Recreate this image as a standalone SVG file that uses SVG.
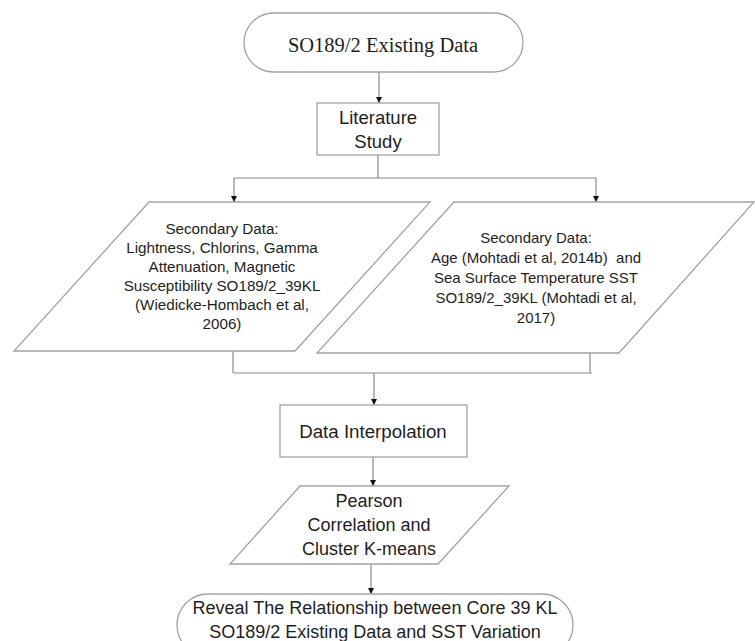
<svg xmlns="http://www.w3.org/2000/svg" width="755" height="641" viewBox="0 0 755 641">
<defs>
<marker id="arr" markerUnits="userSpaceOnUse" markerWidth="6" markerHeight="6" refX="6" refY="3" orient="auto" viewBox="0 0 6 6">
<path d="M0,0 L6,3 L0,6 Z" fill="#111"/>
</marker>
<style>
.node{fill:#fff;stroke:#a3a3a3;stroke-width:1.3}
.conn{fill:none;stroke:#8a8a8a;stroke-width:1.2}
.sans{font-family:"Liberation Sans",Arial,sans-serif;fill:#1e1e1e;text-anchor:middle}
.serif{font-family:"Liberation Serif","Times New Roman",serif;fill:#1e1e1e;text-anchor:middle}
</style>
</defs>
<rect width="755" height="641" fill="#fff"/>
<g id="connectors">
<path class="conn" d="M379,72 V103" marker-end="url(#arr)"/>
<path class="conn" d="M378,155 V178 M234,178 H596"/>
<path class="conn" d="M234,178 V202" marker-end="url(#arr)"/>
<path class="conn" d="M596,178 V202" marker-end="url(#arr)"/>
<path class="conn" d="M233,351 V373 M590,353 V373 M233,373 H592"/>
<path class="conn" d="M374,373 V405" marker-end="url(#arr)"/>
<path class="conn" d="M373,457 V486" marker-end="url(#arr)"/>
<path class="conn" d="M371,564 V594" marker-end="url(#arr)"/>
</g>
<g id="start">
<rect class="node" x="244" y="13" width="279" height="59" rx="29.5"/>
<text class="serif" x="383" y="52" font-size="20.5">SO189/2 Existing Data</text>
</g>
<g id="literature">
<rect class="node" x="317" y="103" width="122" height="52"/>
<text class="sans" x="378" y="124" font-size="18.5">Literature</text>
<text class="sans" x="378" y="148" font-size="18.5">Study</text>
</g>
<g id="secondary-left">
<polygon class="node" points="149,202 430,202 295,351 14,351"/>
<text class="sans" font-size="15.2" x="222" y="234">Secondary Data:</text>
<text class="sans" font-size="15.2" x="222" y="253">Lightness, Chlorins, Gamma</text>
<text class="sans" font-size="15.2" x="222" y="272">Attenuation, Magnetic</text>
<text class="sans" font-size="15.2" x="222" y="291">Susceptibility SO189/2_39KL</text>
<text class="sans" font-size="15.2" x="222" y="310">(Wiedicke-Hombach et al,</text>
<text class="sans" font-size="15.2" x="222" y="329">2006)</text>
</g>
<g id="secondary-right">
<polygon class="node" points="454,202 754,202 619,353 317,353"/>
<text class="sans" font-size="15" x="536" y="243">Secondary Data:</text>
<text class="sans" font-size="15" x="536" y="263" xml:space="preserve">Age (Mohtadi et al, 2014b)  and</text>
<text class="sans" font-size="15" x="536" y="283">Sea Surface Temperature SST</text>
<text class="sans" font-size="15" x="536" y="303">SO189/2_39KL (Mohtadi et al,</text>
<text class="sans" font-size="15" x="536" y="323">2017)</text>
</g>
<g id="interpolation">
<rect class="node" x="280" y="405" width="187" height="52"/>
<text class="sans" x="373" y="438" font-size="18.7">Data Interpolation</text>
</g>
<g id="pearson">
<polygon class="node" points="300,486 509,486 438,564 230,564"/>
<text class="sans" font-size="18" x="369" y="507">Pearson</text>
<text class="sans" font-size="18" x="369" y="531">Correlation and</text>
<text class="sans" font-size="18" x="369" y="555">Cluster K-means</text>
</g>
<g id="end">
<rect class="node" x="177" y="594" width="396" height="62" rx="31"/>
<text class="sans" font-size="18" x="375" y="614">Reveal The Relationship between Core 39 KL</text>
<text class="sans" font-size="18" x="375" y="638">SO189/2 Existing Data and SST Variation</text>
</g>
</svg>
